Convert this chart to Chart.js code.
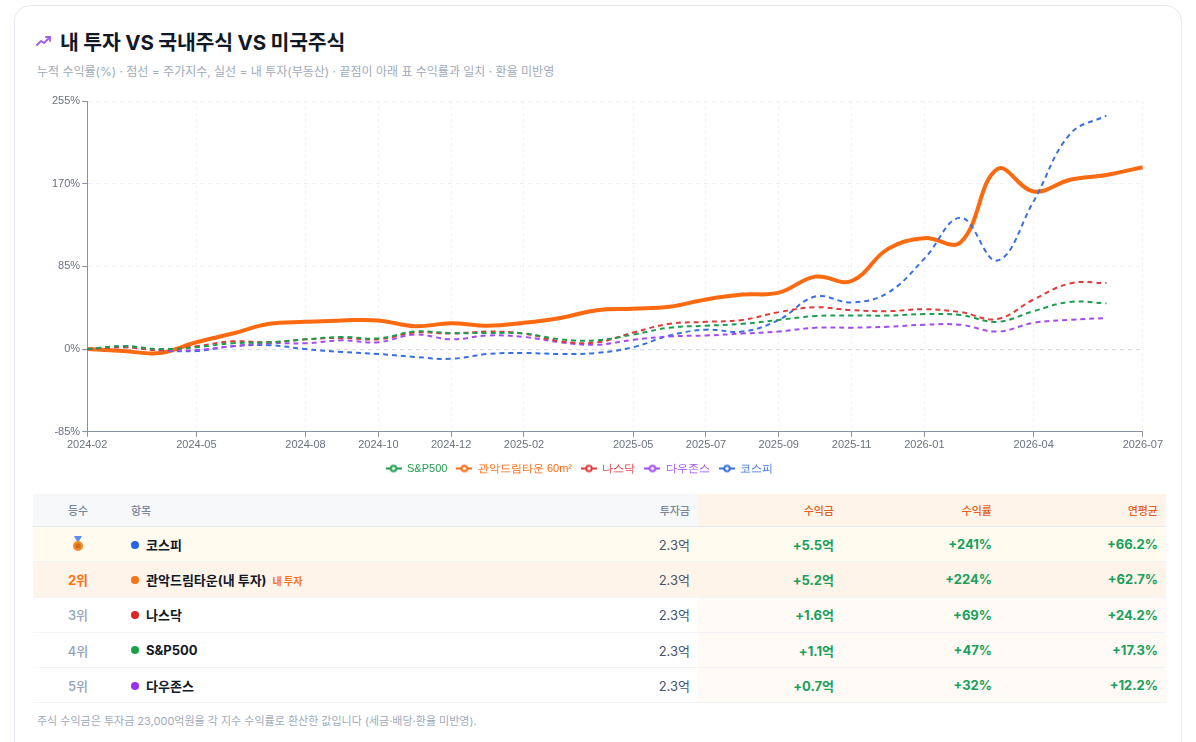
<!DOCTYPE html>
<html lang="ko">
<head>
<meta charset="utf-8">
<title>내 투자 VS 국내주식 VS 미국주식</title>
<script src="https://cdn.jsdelivr.net/npm/chart.js@4.4.1/dist/chart.umd.min.js"></script>
<style>
  html, body { margin: 0; padding: 0; background: #fff; }
  body { width: 1196px; height: 742px; overflow: hidden; position: relative;
    font-family: Inter, "Noto Sans CJK KR", "Noto Sans", sans-serif; color: #0f172a; }
  .card { position: absolute; left: 14px; top: 5px; width: 1166px; height: 780px;
    border: 1px solid #e7eaf2; border-radius: 16px; background: #fff; }
  .title { position: absolute; left: 21px; top: 20px; font-size: 20.5px; font-weight: 700;
    letter-spacing: -0.2px; color: #111827; display: flex; align-items: center; gap: 8px; }
  .sub { position: absolute; left: 22px; top: 56px; font-size: 12px; color: #a0aabb; }
  .chart-box { position: absolute; left: 22px; top: 86px; width: 1128px; height: 392px; }
  table { position: absolute; left: 18px; top: 488px; width: 1133px; border-collapse: collapse;
    font-size: 13px; }
  th { height: 32px; font-size: 11px; font-weight: 500; color: #7a8699; background: #f6f8fa;
    border-bottom: 1px solid #e5e9f0; padding: 0 8px; }
  th.hot { background: #fff4ea; color: #e2601c; }
  td { height: 34.3px; border-bottom: 1px solid #f1f3f7; padding: 0 8px; }
  td.hot { background: #fffaf5; }
  tr.r1 td { background: #fffbef; }
  tr.r2 td { background: #fff4e9; }
  .rank { text-align: center; color: #94a3b8; font-weight: 500; }
  .rank.top { color: #f97316; font-weight: 700; }
  .name { font-weight: 700; color: #111827; }
  .dot { display: inline-block; width: 8px; height: 8px; border-radius: 50%; margin-right: 7px;
    vertical-align: 1px; }
  .tag { font-size: 10px; color: #f97316; font-weight: 700; margin-left: 6px; }
  .num { text-align: right; }
  .inv { color: #475569; }
  .gain { color: #17a05d; font-weight: 700; }
  .note { position: absolute; left: 22px; top: 706px; font-size: 11px; color: #a0aabb; }
</style>
</head>
<body>
<div class="card">
  <div class="title">
    <svg width="16" height="12" viewBox="0 0 16 12"><path d="M1 10 L5 6 L8 8 L14 2" fill="none" stroke="#9b5cf6" stroke-width="1.8" stroke-linecap="round" stroke-linejoin="round"/><path d="M10 2 L14 2 L14 6" fill="none" stroke="#9b5cf6" stroke-width="1.8" stroke-linecap="round" stroke-linejoin="round"/></svg>
    <span>내 투자 VS 국내주식 VS 미국주식</span>
  </div>
  <div class="sub">누적 수익률(%) · 점선 = 주가지수, 실선 = 내 투자(부동산) · 끝점이 아래 표 수익률과 일치 · 환율 미반영</div>
  <div class="chart-box"><canvas id="cmp-chart"></canvas></div>
  <table id="rank-table">
    <thead>
      <tr>
        <th style="width:74px">등수</th>
        <th style="text-align:left">항목</th>
        <th class="num" style="width:130px">투자금</th>
        <th class="num hot" style="width:128px">수익금</th>
        <th class="num hot" style="width:142px">수익률</th>
        <th class="num hot" style="width:150px">연평균</th>
      </tr>
    </thead>
    <tbody id="rank-body"></tbody>
  </table>
  <div class="note">주식 수익금은 투자금 23,000억원을 각 지수 수익률로 환산한 값입니다 (세금·배당·환율 미반영).</div>
</div>

<script>
const months = [
  "2024-02", "2024-03", "2024-04", "2024-05", "2024-06", "2024-07", "2024-08", "2024-09",
  "2024-10", "2024-11", "2024-12", "2025-01", "2025-02", "2025-03", "2025-04", "2025-05",
  "2025-06", "2025-07", "2025-08", "2025-09", "2025-10", "2025-11", "2025-12", "2026-01",
  "2026-02", "2026-03", "2026-04", "2026-05", "2026-06", "2026-07",
];
const tickMonths = [
  "2024-02", "2024-05", "2024-08", "2024-10", "2024-12", "2025-02", "2025-05",
  "2025-07", "2025-09", "2025-11", "2026-01", "2026-04", "2026-07",
];
const yTicks = [-85, 0, 85, 170, 255];

// cumulative return (%) per month
const sp500 = [0, 3, 0, 2, 6, 7, 10, 12.5, 11, 18, 16.5, 16.5, 16, 10, 9, 15, 22, 24, 26, 30, 34, 34.5, 34.5, 36, 35, 28, 39, 48.5, 47];
const apt = [0, -2, -4, 7, 16, 26, 28, 29.5, 29.5, 23.5, 26.5, 24, 27, 32, 40, 41.5, 43.5, 51, 56, 58, 74.5, 70, 103, 114, 110, 185, 162, 174, 179, 187];
const nasdaq = [0, 2, -1, 3, 8, 7, 10, 11.5, 10, 17, 16, 18, 16, 8, 7, 17, 26, 28, 30, 38, 43, 40, 39, 41, 38, 31, 51, 67.5, 68];
const dow = [0, 2, -1, -1, 3, 6, 6, 9, 7, 15, 10, 14, 12.5, 7, 4.5, 9.5, 13, 14, 16, 18, 22, 22, 23, 25, 25, 18, 27, 30, 32];
const kospi = [0, 3, -1, -2, 3, 4, 0, -3, -5, -8, -10, -5, -4, -5, -4, 2, 14, 20, 18, 30, 54, 48, 58, 93, 135, 91, 152, 221, 240];

const seriesNames = ["S&P500", "관악드림타운 60m²", "나스닥", "다우존스", "코스피"];
const seriesColors = ["#1f9d4f", "#fb6a10", "#e03a3a", "#a24cf2", "#3a6fe4"];
const seriesData = [sp500, apt, nasdaq, dow, kospi];

// table
const rankLabels = ["", "2위", "3위", "4위", "5위"];
const rowNames = ["코스피", "관악드림타운(내 투자)", "나스닥", "S&P500", "다우존스"];
const rowColors = ["#2563eb", "#f97316", "#dc2626", "#16a34a", "#9333ea"];
const invested = ["2.3억", "2.3억", "2.3억", "2.3억", "2.3억"];
const profit = ["+5.5억", "+5.2억", "+1.6억", "+1.1억", "+0.7억"];
const returnPct = ["+241%", "+224%", "+69%", "+47%", "+32%"];
const annualPct = ["+66.2%", "+62.7%", "+24.2%", "+17.3%", "+12.2%"];

const medalSvg = `<svg width="12" height="16" viewBox="0 0 12 16" style="vertical-align:-3px"><path d="M2 0 L5 5 L7 5 L10 0 Z" fill="#5b8def"/><circle cx="6" cy="10" r="5" fill="#f08a2c"/><circle cx="6" cy="10" r="2.6" fill="#d96a12"/></svg>`;

function renderTable() {
  const body = document.getElementById("rank-body");
  body.innerHTML = "";
  rowNames.forEach((name, i) => {
    const tr = document.createElement("tr");
    if (i === 0) tr.className = "r1";
    if (i === 1) tr.className = "r2";
    const rank = i === 0 ? medalSvg : rankLabels[i];
    const tag = i === 1 ? `<span class="tag">내 투자</span>` : "";
    tr.innerHTML = `
      <td class="rank${i === 1 ? " top" : ""}">${rank}</td>
      <td class="name"><span class="dot" style="background:${rowColors[i]}"></span>${name}${tag}</td>
      <td class="num inv">${invested[i]}</td>
      <td class="num gain hot">${profit[i]}</td>
      <td class="num gain hot">${returnPct[i]}</td>
      <td class="num gain hot">${annualPct[i]}</td>
    `;
    body.appendChild(tr);
  });
}

// small "-o-" marker for the legend
function legendIcon(color) {
  const c = document.createElement("canvas");
  c.width = 16;
  c.height = 10;
  const g = c.getContext("2d");
  g.strokeStyle = color;
  g.lineWidth = 2;
  g.beginPath();
  g.moveTo(0, 5);
  g.lineTo(16, 5);
  g.stroke();
  g.fillStyle = "#fff";
  g.beginPath();
  g.arc(8, 5, 2.8, 0, Math.PI * 2);
  g.fill();
  g.stroke();
  return c;
}

// the legend sits a bit left of the canvas centre in the original
const legendShift = {
  id: "legendShift",
  afterLayout(chart) {
    const lg = chart.legend;
    if (lg) {
      lg.left -= 28;
      lg.right -= 28;
    }
  },
};

function renderChart() {
  const icons = seriesColors.map(legendIcon);

  const datasets = seriesData.map((vals, idx) => {
    const isMine = idx === 1;
    return {
      label: seriesNames[idx],
      data: vals.map((v, i) => ({ x: i, y: v })),
      borderColor: seriesColors[idx],
      backgroundColor: seriesColors[idx],
      borderWidth: isMine ? 4 : 2,
      borderDash: isMine ? [] : [5, 4],
      tension: 0.4,
      pointRadius: 0,
      pointHoverRadius: 0,
      fill: false,
      order: isMine ? 1 : 0,
    };
  });

  const ctx = document.getElementById("cmp-chart").getContext("2d");
  new Chart(ctx, {
    type: "line",
    data: { datasets },
    plugins: [legendShift],
    options: {
      responsive: true,
      maintainAspectRatio: false,
      animation: false,
      layout: { padding: { left: 13, right: 0, top: 9, bottom: 0 } },
      scales: {
        x: {
          type: "linear",
          min: 0,
          max: months.length - 1,
          afterBuildTicks: (axis) => {
            axis.ticks = tickMonths.map((m) => ({ value: months.indexOf(m) }));
          },
          ticks: {
            autoSkip: false,
            maxRotation: 0,
            color: "#6b7280",
            font: { size: 11 },
            padding: 2,
            callback: (value) => months[value] ?? "",
          },
          grid: { color: "#eef1f6", tickColor: "#8a93a3", tickLength: 5 },
          border: { display: true, color: "#8a93a3", width: 1, dash: [3, 3] },
        },
        y: {
          min: -85,
          max: 255,
          afterBuildTicks: (axis) => {
            axis.ticks = yTicks.map((v) => ({ value: v }));
          },
          ticks: {
            color: "#6b7280",
            font: { size: 11 },
            padding: 2,
            callback: (value) => `${value}%`,
          },
          grid: {
            color: (c) => (c.tick && c.tick.value === 0 ? "#d6dcea" : "#eef1f6"),
            lineWidth: (c) => (c.tick && c.tick.value === 0 ? 1.2 : 1),
            tickColor: "#8a93a3",
            tickLength: 5,
          },
          border: { display: true, color: "#8a93a3", width: 1, dash: [4, 4] },
        },
      },
      plugins: {
        legend: {
          position: "bottom",
          labels: {
            usePointStyle: true,
            pointStyleWidth: 16,
            boxHeight: 10,
            padding: 9,
            font: { size: 11 },
            generateLabels: (chart) =>
              chart.data.datasets.map((ds, i) => ({
                text: ds.label,
                fillStyle: ds.borderColor,
                strokeStyle: ds.borderColor,
                fontColor: ds.borderColor,
                pointStyle: icons[i],
                lineWidth: 0,
                hidden: !chart.isDatasetVisible(i),
                datasetIndex: i,
              })),
          },
        },
        tooltip: { enabled: false },
      },
    },
  });
}

renderTable();
renderChart();
</script>
</body>
</html>
